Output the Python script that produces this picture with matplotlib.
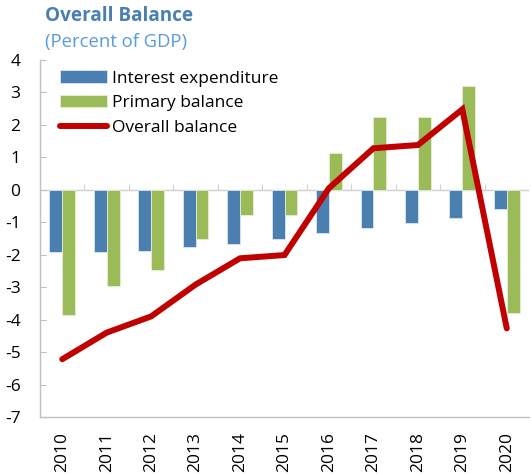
import matplotlib
matplotlib.use("Agg")
import matplotlib.pyplot as plt
import numpy as np

plt.rcParams['font.family'] = ['Open Sans', 'DejaVu Sans']

years = ["2010", "2011", "2012", "2013", "2014", "2015", "2016", "2017", "2018", "2019", "2020"]
interest_exp = [-1.91, -1.93, -1.88, -1.77, -1.67, -1.51, -1.34, -1.17, -1.03, -0.88, -0.60]
primary_bal = [-3.87, -2.95, -2.48, -1.50, -0.79, -0.79, 1.13, 2.24, 2.24, 3.20, -3.79]
overall_bal = [-5.22, -4.40, -3.90, -2.92, -2.11, -2.01, 0.05, 1.28, 1.38, 2.48, -4.27]

blue = "#4A7FB0"
green = "#9BBB59"
red = "#C00000"
gray = "#BFBFBF"

fig = plt.figure(figsize=(5.31, 4.74), dpi=100)
ax = fig.add_axes([40/531, 1-417/474, 489/531, 357/474])

x = np.arange(len(years))
w = 0.29
b1 = ax.bar(x - w/2, interest_exp, width=w, color=blue, edgecolor="#DDE6F0", linewidth=0.6,
            label="Interest expenditure", zorder=2)
b2 = ax.bar(x + w/2, primary_bal, width=w, color=green, edgecolor="#E6EED8", linewidth=0.6,
            label="Primary balance", zorder=2)
l1, = ax.plot(x, overall_bal, color=red, linewidth=4.3, solid_capstyle='round',
              solid_joinstyle='miter', label="Overall balance", zorder=3)

ax.set_xlim(-0.5, len(years) - 0.5)
ax.set_ylim(-7, 4)
ax.set_yticks(range(-7, 5))
ax.set_yticklabels([str(v) for v in range(-7, 5)])
ax.set_xticks(x)
ax.set_xticklabels(years, rotation=90)

for s in ["top", "right"]:
    ax.spines[s].set_visible(False)
for s in ["left", "bottom"]:
    ax.spines[s].set_color(gray)
    ax.spines[s].set_linewidth(1.0)

ax.tick_params(axis='y', direction='in', length=4.5, color=gray, pad=14, labelsize=12.5)
ax.tick_params(axis='x', length=0, pad=11, labelsize=12.5)

# zero line with category-boundary ticks
ax.axhline(0, color="#D0D0D0", linewidth=1.0, zorder=1)
sec = ax.secondary_xaxis(0, transform=ax.transData)
sec.set_xticks(np.arange(-0.5, len(years), 1.0)[1:-1])
sec.set_xticklabels([])
sec.tick_params(direction='in', length=4.5, color="#D0D0D0")
sec.spines['bottom'].set_visible(False)

leg = ax.legend(handles=[b1, b2, l1], loc="upper left", bbox_to_anchor=(0.02, 1.0),
                frameon=False, fontsize=12.5, handlelength=2.7, handleheight=0.7,
                labelspacing=0.5, handletextpad=0.3, borderaxespad=0.2)

fig.text(45/531, 1-16/474, "Overall Balance", fontsize=13.6, fontweight='bold',
         color="#4A7FB0", va='center', ha='left')
fig.text(45/531, 1-42/474, "(Percent of GDP)", fontsize=13.3,
         color="#5B9BD5", va='center', ha='left')

fig.savefig("out.png", dpi=100)
